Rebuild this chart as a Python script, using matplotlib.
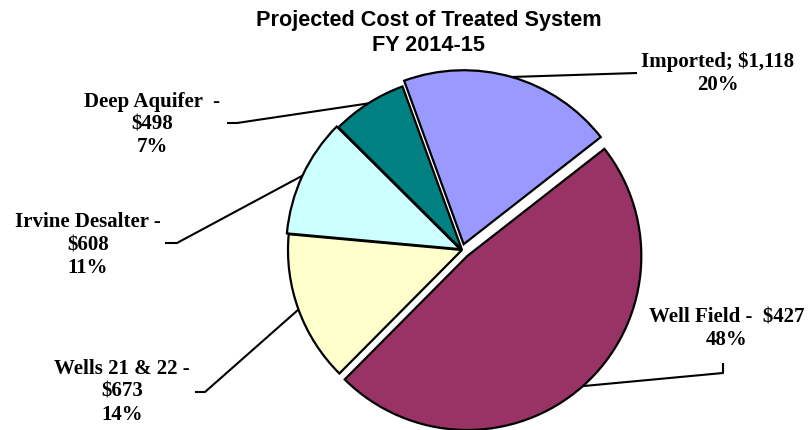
import matplotlib
matplotlib.use('Agg')
import matplotlib.pyplot as plt
import numpy as np

# ---- data ----
categories = ['Imported', 'Well Field', 'Wells 21 & 22', 'Irvine Desalter', 'Deep Aquifer']
costs = ['$1,118', '$427', '$673', '$608', '$498']
shares = [20, 48, 14, 11, 7]
pct_labels = ['20%', '48%', '14%', '11%', '7%']
label_texts = [
    'Imported; $1,118\n20%',
    'Well Field -  $427\n48%',
    'Wells 21 & 22 -\n$673\n14%',
    'Irvine Desalter -\n$608\n11%',
    'Deep Aquifer  -\n$498\n7%',
]
colors = ['#9999FF', '#993366', '#FFFFCC', '#CCFFFF', '#008080']

W, H = 808, 430
fig = plt.figure(figsize=(W / 100, H / 100), dpi=100)
ax = fig.add_axes([0, 0, 1, 1])

cx, cy = 462, H - 250
R = 174
explode = [6, 8, 0, 2, 0]
wedges, _ = ax.pie(shares, colors=colors, startangle=110, counterclock=False,
                   radius=R, center=(cx, cy), explode=explode, frame=True,
                   wedgeprops=dict(edgecolor='black', linewidth=1.6))
ax.set_xlim(0, W)
ax.set_ylim(0, H)
ax.set_aspect('equal')
ax.axis('off')

# label layout (pixel coords from top): text centre, leader nodes (label side)
layout = [
    dict(pos=(718, 73.5), nodes=[(637, 73)]),
    dict(pos=(727, 328.5), nodes=[(723, 363), (723, 373)]),
    dict(pos=(122, 392), nodes=[(195, 392), (205, 392)]),
    dict(pos=(88, 245), nodes=[(165, 243), (177, 243)]),
    dict(pos=(152, 124.5), nodes=[(227, 123), (237, 123)]),
]

for w, txt, lay in zip(wedges, label_texts, layout):
    tm = np.deg2rad((w.theta1 + w.theta2) / 2)
    px = w.center[0] + w.r * np.cos(tm)
    py = w.center[1] + w.r * np.sin(tm)
    xs = [n[0] for n in lay['nodes']] + [px]
    ys = [H - n[1] for n in lay['nodes']] + [py]
    ax.plot(xs, ys, color='black', lw=1.5, solid_capstyle='butt', zorder=0.5)
    ax.text(lay['pos'][0], H - lay['pos'][1], txt, ha='center', va='center',
            multialignment='center', family='Liberation Serif',
            fontweight='bold', fontsize=15)

fig.text(429 / W, 1 - 33 / H, 'Projected Cost of Treated System\nFY 2014-15',
         ha='center', va='center', multialignment='center',
         family='Liberation Sans', fontweight='bold', fontsize=15.6)

fig.savefig('out.png', dpi=100)
